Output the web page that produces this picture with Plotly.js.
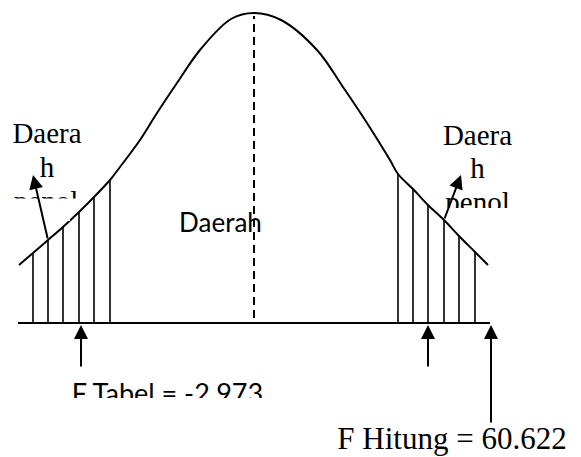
<!DOCTYPE html>
<html>
<head>
<meta charset="utf-8">
<script src="https://cdn.plot.ly/plotly-3.0.1.min.js"></script>
<style>html,body{margin:0;padding:0;background:#fff;}#chart{width:581px;height:457px;}</style>
</head>
<body>
<div id="chart"></div>
<script>
// ---- data (x in standard-deviation units, y = curve height above the base line) ----
const curveX = [-2.35, -2.21, -2.06, -1.91, -1.75, -1.60, -1.44, -1.34, -1.14, -0.97, -0.77, -0.54, -0.23, 0.00,
                 0.27, 0.63, 0.89, 1.13, 1.36, 1.44, 1.59, 1.74, 1.90, 2.05, 2.21, 2.34];
const curveY = [0.58, 0.70, 0.83, 0.96, 1.11, 1.26, 1.43, 1.56, 1.83, 2.10, 2.40, 2.73, 3.04, 3.10,
                3.03, 2.73, 2.36, 2.00, 1.63, 1.49, 1.34, 1.18, 1.03, 0.87, 0.71, 0.58];
const leftHatchX = [-2.21, -2.06, -1.91, -1.75, -1.60, -1.44];
const leftHatchTop = [0.70, 0.83, 0.96, 1.11, 1.26, 1.43];
const rightHatchX = [1.44, 1.59, 1.74, 1.90, 2.05, 2.21];
const rightHatchTop = [1.49, 1.34, 1.18, 1.03, 0.87, 0.71];
const baseX = [-2.36, 2.36];
const meanX = 0.00;
const meanTop = 3.07;
const fTabelX = [-1.73, 1.74];
const fHitungX = 2.37;
const leftLabelLines = ["Daera", "h", "penol"];
const rightLabelLines = ["Daera", "h", "penol"];
const middleLabel = "Daerah";
const fTabelLabel = "F Tabel = -2.973";
const fHitungLabel = "F Hitung = 60.622";

// ---- drawing ----
const serif = "Liberation Serif, Times New Roman, serif";
const sans = "Lato, Carlito, sans-serif";
const black = "#000000";

function textTrace(xs, ys, texts, family, size) {
  return {type: "scatter", mode: "text", x: xs, y: ys, text: texts,
          textposition: "middle center", textfont: {family: family, size: size, color: black},
          hoverinfo: "skip", showlegend: false, cliponaxis: false};
}

const traces = [];
// text first (so lines are drawn over it)
traces.push(textTrace([-2.07, -2.07, -2.08], [1.87, 1.53, 1.19], leftLabelLines, serif, 29));
traces.push(textTrace([2.235, 2.235, 2.235], [1.85, 1.52, 1.18], rightLabelLines, serif, 29));
traces.push(textTrace([-0.335], [0.975], [middleLabel], sans, 26));
traces.push(textTrace([-0.865], [-0.73], [fTabelLabel], sans, 27));
traces.push(textTrace([1.98], [-1.18], [fHitungLabel], serif, 31));

// hatch lines
function hatch(xs, tops) {
  const X = [], Y = [];
  xs.forEach((x, i) => { X.push(x, x, null); Y.push(0, tops[i], null); });
  return {type: "scatter", mode: "lines", x: X, y: Y, line: {color: black, width: 1.6},
          hoverinfo: "skip", showlegend: false};
}
traces.push(hatch(leftHatchX, leftHatchTop));
traces.push(hatch(rightHatchX, rightHatchTop));
// base line
traces.push({type: "scatter", mode: "lines", x: baseX, y: [0, 0], line: {color: black, width: 2},
             hoverinfo: "skip", showlegend: false});
// mean dashed line
traces.push({type: "scatter", mode: "lines", x: [meanX, meanX], y: [0.05, meanTop],
             line: {color: black, width: 2, dash: "8px,5px"}, hoverinfo: "skip", showlegend: false});
// bell curve
traces.push({type: "scatter", mode: "lines", x: curveX, y: curveY,
             line: {color: black, width: 2, shape: "spline", smoothing: 1},
             hoverinfo: "skip", showlegend: false});

function arrow(x, y, ax, ay) {
  return {x: x, y: y, ax: ax, ay: ay, xref: "x", yref: "y", axref: "x", ayref: "y",
          showarrow: true, arrowhead: 2, arrowsize: 1.4, arrowwidth: 2, arrowcolor: black,
          standoff: 0, startstandoff: 0, text: ""};
}
const annotations = [
  arrow(fTabelX[0], -0.02, fTabelX[0], -0.45),
  arrow(fTabelX[1], -0.02, fTabelX[1], -0.45),
  arrow(fHitungX, -0.02, fHitungX, -1.01),
  arrow(-2.21, 1.48, leftHatchX[1], leftHatchTop[1]),
  arrow(2.07, 1.48, rightHatchX[3], rightHatchTop[3])
];

// white boxes that clip the text like the original text boxes
function box(x0, x1, y0, y1) {
  return {type: "rect", xref: "x", yref: "y", x0: x0, x1: x1, y0: y0, y1: y1,
          fillcolor: "#ffffff", line: {width: 0}, layer: "above"};
}
const shapes = [
  box(-2.46, -1.84, 1.245, 1.02),
  box(-1.84, -1.76, 1.245, 1.12),
  box(1.92, 2.61, 1.15, 1.03),
  box(-1.89, 0.16, -0.75, -0.92)
];

const layout = {
  width: 581, height: 457,
  margin: {l: 0, r: 0, t: 0, b: 0, pad: 0},
  paper_bgcolor: "#ffffff", plot_bgcolor: "#ffffff",
  showlegend: false,
  xaxis: {range: [-2.54, 3.27], visible: false, fixedrange: true},
  yaxis: {range: [-1.34, 3.23], visible: false, fixedrange: true},
  annotations: annotations,
  shapes: shapes
};
Plotly.newPlot("chart", traces, layout, {staticPlot: true, displayModeBar: false});
</script>
</body>
</html>
